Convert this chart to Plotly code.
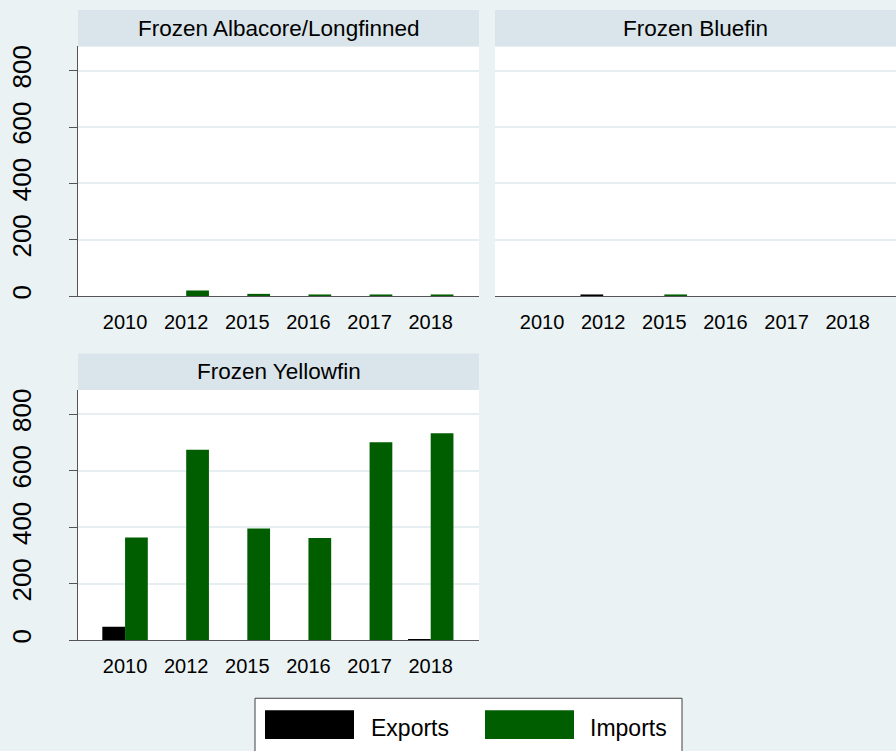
import plotly.graph_objects as go

years = ["2010", "2012", "2015", "2016", "2017", "2018"]
panel_titles = ["Frozen Albacore/Longfinned", "Frozen Bluefin", "Frozen Yellowfin"]

albacore_exports = [0, 0, 0, 0, 0, 0]
albacore_imports = [0, 20, 8, 3, 3, 3]
bluefin_exports = [0, 3, 0, 0, 0, 0]
bluefin_imports = [0, 0, 6, 0, 0, 0]
yellowfin_exports = [48, 0, 0, 0, 0, 3]
yellowfin_imports = [364, 674, 396, 362, 701, 733]

y_ticks = [0, 200, 400, 600, 800]
y_ticktext = ["0", "200", "400", "600", "800"]

BG = "#EAF2F3"
HDR = "#D9E5EA"
EXP_C = "#000000"
IMP_C = "#005E00"
AXC = "#555555"
FONT = "Liberation Sans"

W, H = 896, 751

def px_x(v):
    return v / W

def px_y(v):
    return 1 - v / H

panels = [
    ("", 78, 479, 45.7, 296.7, albacore_exports, albacore_imports, True),
    ("2", 495, 896, 45.7, 296.7, bluefin_exports, bluefin_imports, False),
    ("3", 78, 479, 391, 642.7, yellowfin_exports, yellowfin_imports, True),
]

fig = go.Figure()
layout = dict(
    width=W, height=H, autosize=False,
    margin=dict(l=0, r=0, t=0, b=0),
    paper_bgcolor=BG, plot_bgcolor="white",
    barmode="group", bargap=0.256, bargroupgap=0,
    showlegend=False,
    font=dict(family=FONT, color="black"),
)

shapes = []
annotations = []
yr = [0, 886]
for i, (sfx, x0, x1, yt, yb, ex, im, ylab) in enumerate(panels):
    xa = "x" + sfx
    ya = "y" + sfx
    fig.add_trace(go.Bar(x=years, y=ex, name="Exports", marker=dict(color=EXP_C, line=dict(width=0)),
                         xaxis=xa, yaxis=ya, showlegend=False))
    fig.add_trace(go.Bar(x=years, y=im, name="Imports", marker=dict(color=IMP_C, line=dict(width=0)),
                         xaxis=xa, yaxis=ya, showlegend=False))
    layout["xaxis" + sfx] = dict(
        domain=[px_x(x0), px_x(x1)], anchor=ya, type="category",
        range=[-0.77, 5.79], showgrid=False, zeroline=False,
        showline=True, linecolor=AXC, linewidth=1.3,
        ticks="", tickfont=dict(size=20, family=FONT, color="black"),
        ticklabelstandoff=8, fixedrange=True,
    )
    layout["yaxis" + sfx] = dict(
        domain=[px_y(yb), px_y(yt)], anchor=xa, range=yr,
        tickvals=y_ticks, ticktext=y_ticktext,
        showticklabels=ylab, ticks="outside" if ylab else "", ticklen=8, tickcolor=AXC, tickwidth=1.3,
        tickangle=-90, tickfont=dict(size=26, family=FONT, color="black"),
        ticklabelstandoff=27,
        showgrid=True, gridcolor="#E6EEF1", gridwidth=1.5,
        zeroline=False, showline=ylab, linecolor=AXC, linewidth=1.3, fixedrange=True,
    )
    shapes.append(dict(type="rect", xref="paper", yref="paper", x0=px_x(x0), x1=px_x(x1),
                       y0=px_y(yt), y1=px_y(yt - 36.7), fillcolor=HDR, line=dict(width=0), layer="below"))
    annotations.append(dict(text=panel_titles[i], xref="paper", yref="paper",
                            x=(px_x(x0) + px_x(x1)) / 2, y=px_y(yt - 18.3), xanchor="center", yanchor="middle",
                            showarrow=False, font=dict(size=22.5, family=FONT, color="black")))

# legend box (drawn manually to match the large swatches)
shapes.append(dict(type="rect", xref="paper", yref="paper", x0=px_x(255), x1=px_x(682),
                   y0=px_y(760), y1=px_y(701), fillcolor="white", line=dict(color="#404040", width=1)))
shapes.append(dict(type="rect", xref="paper", yref="paper", x0=px_x(265), x1=px_x(354),
                   y0=px_y(742), y1=px_y(713), fillcolor=EXP_C, line=dict(width=0)))
shapes.append(dict(type="rect", xref="paper", yref="paper", x0=px_x(485), x1=px_x(574),
                   y0=px_y(742), y1=px_y(713), fillcolor=IMP_C, line=dict(width=0)))
annotations.append(dict(text="Exports", xref="paper", yref="paper", x=px_x(369), y=px_y(731),
                        xanchor="left", yanchor="middle", showarrow=False,
                        font=dict(size=23, family=FONT, color="black")))
annotations.append(dict(text="Imports", xref="paper", yref="paper", x=px_x(588), y=px_y(731),
                        xanchor="left", yanchor="middle", showarrow=False,
                        font=dict(size=23, family=FONT, color="black")))

layout["shapes"] = shapes
layout["annotations"] = annotations
fig.update_layout(**layout)
fig.write_html("out.html", config={"displayModeBar": False},
               post_script="document.body.style.margin='0';document.body.style.overflow='hidden';")
